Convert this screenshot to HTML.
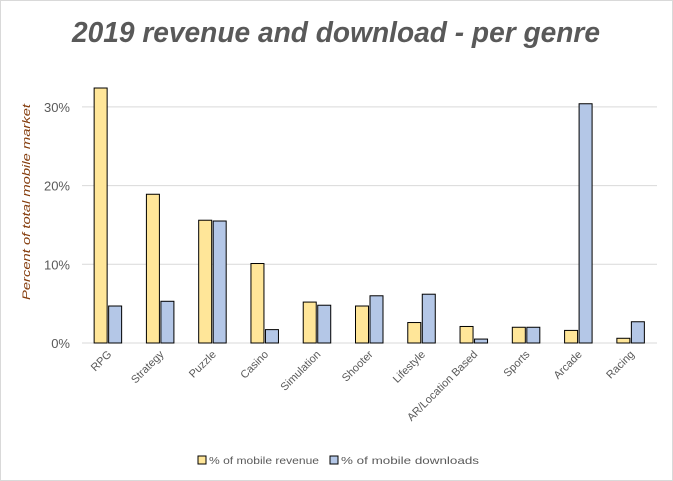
<!DOCTYPE html>
<html><head><meta charset="utf-8"><style>
body{margin:0;background:#fff;}
svg{display:block;font-family:"Liberation Sans",sans-serif;}
</style></head><body>
<svg id="chart" width="673" height="481">
<rect x="0.5" y="0.5" width="672" height="480" fill="#fff" stroke="#d9d9d9"/>
<text x="336" y="42" text-anchor="middle" font-size="29" font-style="italic" font-weight="bold" fill="#595959" textLength="528" lengthAdjust="spacingAndGlyphs">2019 revenue and download - per genre</text>
<text transform="translate(30,202) rotate(-90)" text-anchor="middle" font-size="11" font-style="italic" fill="#843c0c" textLength="196" lengthAdjust="spacingAndGlyphs">Percent of total mobile market</text>
<g id="grid"></g><g id="bars"></g><g id="xlabels"></g>
<g>
<rect x="198" y="456" width="8" height="8" fill="#ffe699" stroke="#000"/>
<text x="209" y="464" font-size="10.5" fill="#595959" textLength="110" lengthAdjust="spacingAndGlyphs">% of mobile revenue</text>
<rect x="330" y="456" width="8" height="8" fill="#b4c7e7" stroke="#000"/>
<text x="341" y="464" font-size="10.5" fill="#595959" textLength="138" lengthAdjust="spacingAndGlyphs">% of mobile downloads</text>
</g>
</svg>
<script>
const categories=["RPG","Strategy","Puzzle","Casino","Simulation","Shooter","Lifestyle","AR/Location Based","Sports","Arcade","Racing"];
const revenue=[32.4,18.9,15.6,10.1,5.2,4.7,2.6,2.1,2.0,1.6,0.6];
const downloads=[4.7,5.3,15.5,1.7,4.8,6.0,6.2,0.5,2.0,30.4,2.7];
const ticks=[0,10,20,30];
const tickLabels=["0%","10%","20%","30%"];
const NS="http://www.w3.org/2000/svg";
const x0=82,x1=657,y0=343,pxPer=7.87;
const band=(x1-x0)/categories.length;
const y=v=>y0-v*pxPer;
const xc=i=>x0+band*(i+0.5);
function mk(t,a,p){const e=document.createElementNS(NS,t);for(const k in a)e.setAttribute(k,a[k]);p.appendChild(e);return e;}
const grid=document.getElementById('grid');
ticks.forEach((t,i)=>{
  const l=mk('line',{x1:x0,x2:x1,y1:y(t),y2:y(t),stroke:'#d9d9d9','stroke-width':1},grid);
  
  
  const tx=mk('text',{x:x0-12,y:y(t)+5,'text-anchor':'end','font-size':13,fill:'#595959'},grid);
  tx.textContent=tickLabels[i];
  
  
});
const bars=document.getElementById('bars'),xl=document.getElementById('xlabels');
categories.forEach((c,i)=>{
  const cx=xc(i);
  const r=mk('rect',{x:cx-14,y:y(revenue[i]),width:13,height:revenue[i]*pxPer,fill:'#ffe699',stroke:'#000','stroke-width':1},bars);
  
  
  const d=mk('rect',{x:cx+0.5,y:y(downloads[i]),width:13,height:downloads[i]*pxPer,fill:'#b4c7e7',stroke:'#000','stroke-width':1},bars);
  
  
  const t=mk('text',{transform:`translate(${cx+4},${y0+12}) rotate(-45)`,'text-anchor':'end','font-size':11,fill:'#595959'},xl);
  t.textContent=c;
  
  
});
</script>
</body></html>
